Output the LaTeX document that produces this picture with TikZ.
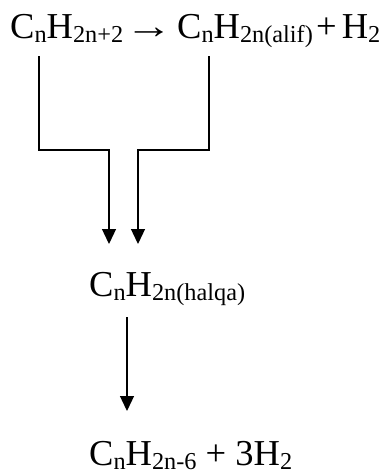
\documentclass[tikz,border=0pt]{standalone}
\usepackage{fontspec}
\setmainfont{Liberation Serif}
\usetikzlibrary{arrows.meta}
\newcommand\sbs[1]{\raisebox{-4pt}{\fontsize{24.3}{26}\selectfont #1}}
\begin{document}
\begin{tikzpicture}[x=1pt,y=-1pt,
  txt/.style={inner sep=0pt, anchor=base west, font=\fontsize{36.5}{40}\selectfont},
  conn/.style={line width=1.3pt},
  arr/.style={conn,-{Triangle[width=14pt,length=15pt]}}]
\useasboundingbox (0,0) rectangle (389,474);
\node[txt] (a) at (10,38) {C\sbs{n}H\sbs{2n+2}};
\node[txt] (ar) at (125,38) {\scalebox{1.3}[1]{→}};
\node[txt] (b) at (177,38) {C\sbs{n}H\sbs{2n(alif)}};
\node[txt] (c) at (316,38) {+\hspace{5pt}H\sbs{2}};
\node[txt] (d) at (89,296) {C\sbs{n}H\sbs{2n(halqa)}};
\node[txt] (e) at (89,465) {C\sbs{n}H\sbs{2n-6} + 3H\sbs{2}};
\coordinate (a0) at (39,56);
\coordinate (b0) at (209,56);
\coordinate (j1) at (109,150);
\coordinate (j2) at (138,150);
\coordinate (t1) at (109,244);
\coordinate (t2) at (138,244);
\coordinate (d0) at (127,317);
\coordinate (t3) at (127,411);
\draw[arr] (a0) |- (j1) -- (t1);
\draw[arr] (b0) |- (j2) -- (t2);
\draw[arr] (d0) -- (t3);
\end{tikzpicture}
\end{document}
